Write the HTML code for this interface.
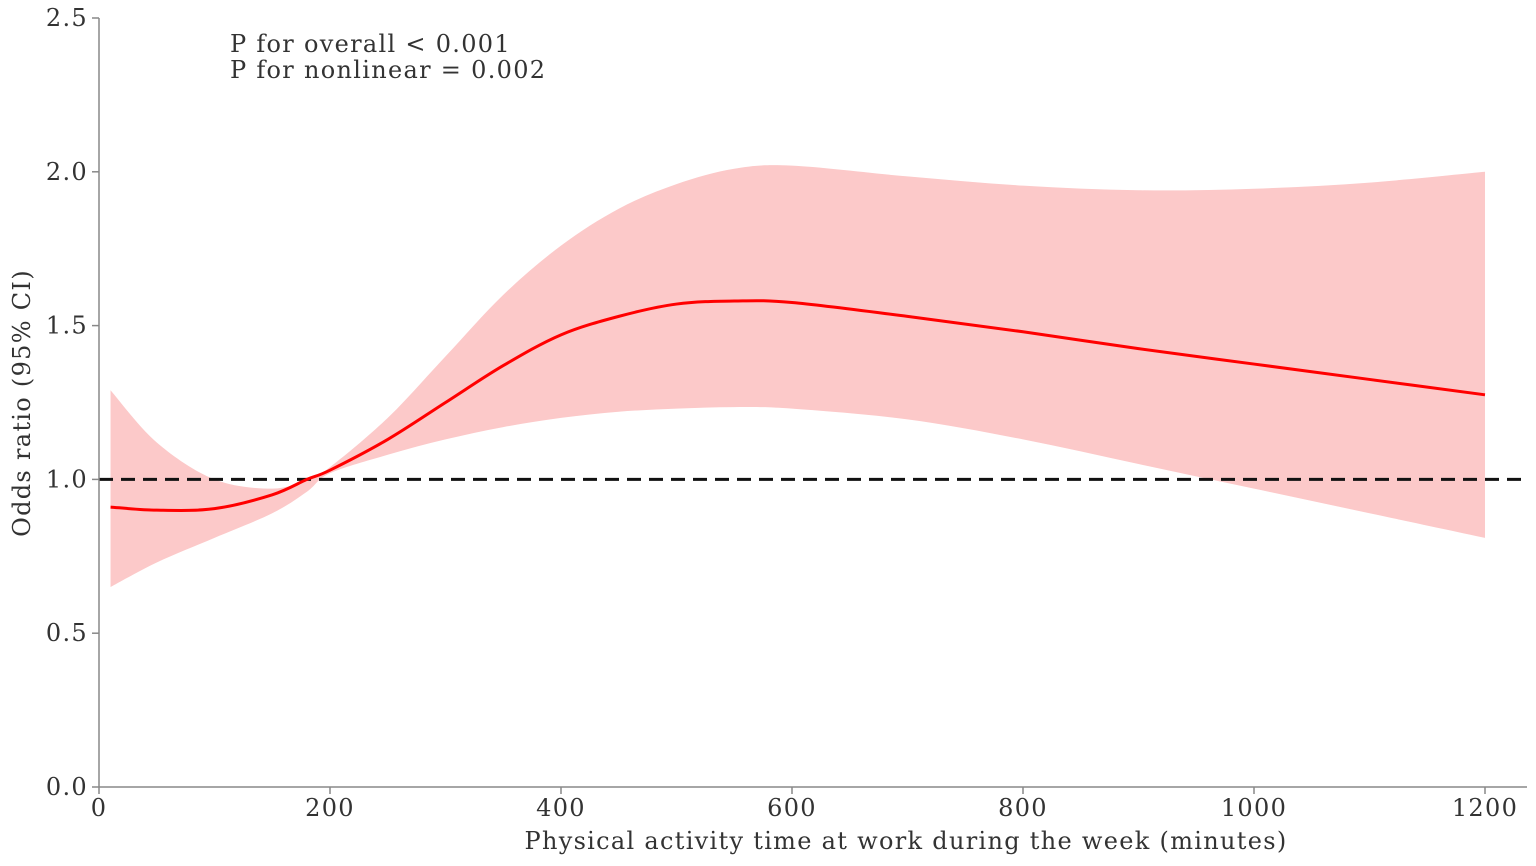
<!DOCTYPE html>
<html><head><meta charset="utf-8"><style>
html,body{margin:0;padding:0;background:#fff;}
svg{display:block;font-family:"DejaVu Serif","Liberation Serif",serif;}
text{letter-spacing:1.3px;}
</style></head><body>
<svg id="chart" width="1536" height="866">
<g id="band"></g>
<g id="lines"></g>
<g id="axes"></g>
<text x="230" y="52" font-size="24" fill="#333">P for overall &lt; 0.001</text>
<text x="230" y="78" font-size="24" fill="#333">P for nonlinear = 0.002</text>
<text x="906" y="849" font-size="24" fill="#333" text-anchor="middle">Physical activity time at work during the week (minutes)</text>
<text transform="translate(30,403) rotate(-90)" font-size="24" fill="#333" text-anchor="middle">Odds ratio (95% CI)</text>
</svg>
<script>
const xs=[10,50,100,150,180,200,250,300,350,400,450,500,550,600,700,800,900,1000,1100,1200];
const orVals=[0.91,0.90,0.905,0.95,1.0,1.03,1.13,1.25,1.37,1.47,1.53,1.57,1.58,1.575,1.53,1.48,1.425,1.375,1.325,1.275];
const upperVals=[1.29,1.12,1.0,0.97,1.0,1.04,1.2,1.4,1.6,1.76,1.88,1.96,2.01,2.02,1.985,1.955,1.94,1.945,1.965,2.0];
const lowerVals=[0.65,0.73,0.81,0.89,0.96,1.02,1.08,1.13,1.17,1.2,1.22,1.23,1.235,1.23,1.195,1.13,1.05,0.97,0.89,0.81];
const xTicks=[0,200,400,600,800,1000,1200];
const yTicks=[0.0,0.5,1.0,1.5,2.0,2.5];
const refValue=1.0;
const X=v=>99+v*(1386/1200);
const Y=v=>787-v*(769/2.5);
const NS="http://www.w3.org/2000/svg";
function mk(t,a,p){const e=document.createElementNS(NS,t);for(const k in a)e.setAttribute(k,a[k]);p.appendChild(e);return e;}
function smooth(pts){let d="";for(let i=0;i<pts.length-1;i++){const p0=pts[Math.max(i-1,0)],p1=pts[i],p2=pts[i+1],p3=pts[Math.min(i+2,pts.length-1)];
const c1=[p1[0]+(p2[0]-p0[0])/6,p1[1]+(p2[1]-p0[1])/6],c2=[p2[0]-(p3[0]-p1[0])/6,p2[1]-(p3[1]-p1[1])/6];
d+=" C"+c1+" "+c2+" "+p2;}return d;}
const up=xs.map((x,i)=>[X(x),Y(upperVals[i])]);
const lo=xs.map((x,i)=>[X(x),Y(lowerVals[i])]).reverse();
const band=document.getElementById('band');
const bp=mk('path',{d:"M"+up[0]+smooth(up)+" L"+lo[0]+smooth(lo)+"Z",fill:"#fcc9c9",stroke:"none"},band);


const lines=document.getElementById('lines');
const ref=mk('line',{x1:X(0),x2:1528,y1:Y(refValue),y2:Y(refValue),stroke:"#111","stroke-width":3,"stroke-dasharray":"14,8"},lines);


const mp=xs.map((x,i)=>[X(x),Y(orVals[i])]);
const ml=mk('path',{d:"M"+mp[0]+smooth(mp),fill:"none",stroke:"#f00","stroke-width":3},lines);


const ax=document.getElementById('axes');
const ya=mk('line',{x1:99,x2:99,y1:18,y2:787,stroke:"#888","stroke-width":1.5},ax);


const xa=mk('line',{x1:99,x2:1527,y1:787,y2:787,stroke:"#888","stroke-width":1.5},ax);


xTicks.forEach(t=>{mk('line',{x1:X(t),x2:X(t),y1:787,y2:794,stroke:"#888","stroke-width":1.5},ax);
const tx=mk('text',{x:X(t),y:816,"font-size":24,fill:"#333","text-anchor":"middle"},ax);tx.textContent=t;

});
yTicks.forEach(t=>{mk('line',{x1:92,x2:99,y1:Y(t),y2:Y(t),stroke:"#888","stroke-width":1.5},ax);
const tx=mk('text',{x:88,y:Y(t)+8,"font-size":24,fill:"#333","text-anchor":"end"},ax);tx.textContent=t.toFixed(1);

});
</script>
</body></html>
